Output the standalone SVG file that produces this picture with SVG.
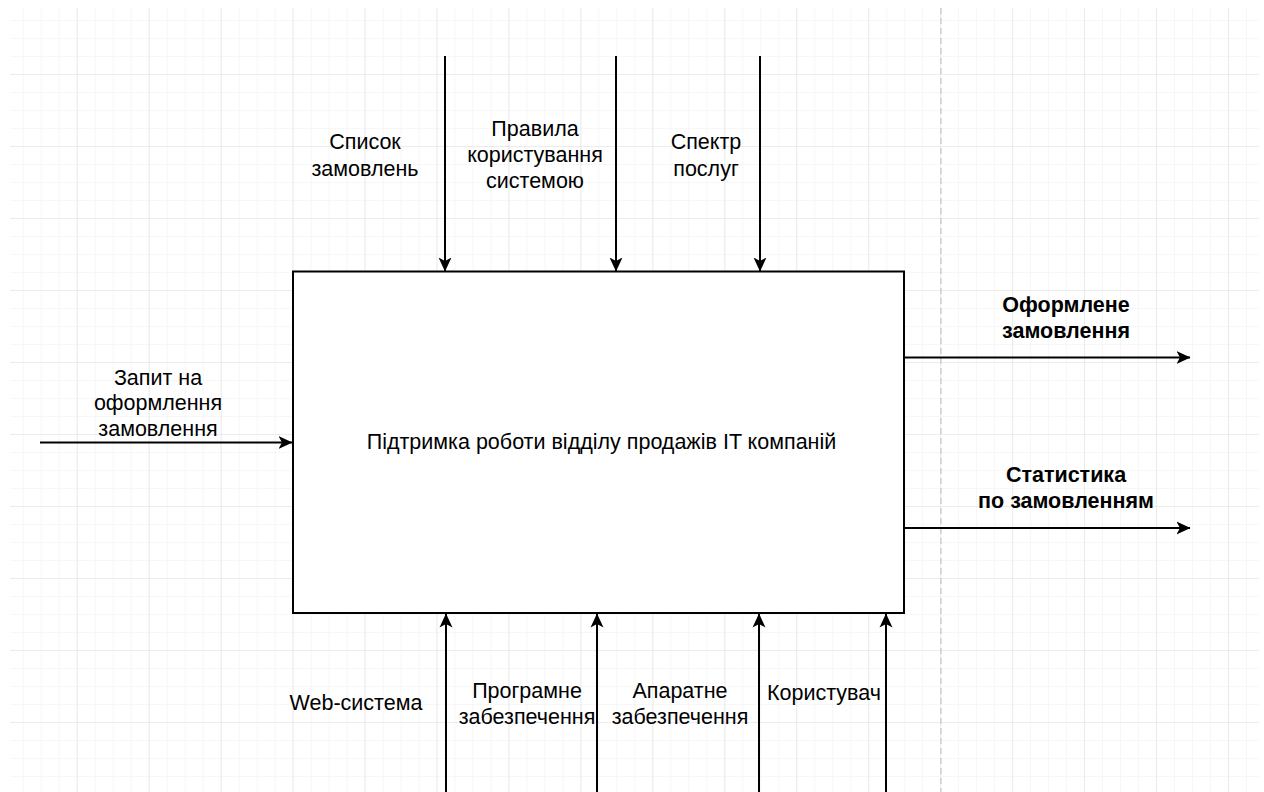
<svg xmlns="http://www.w3.org/2000/svg" width="1264" height="792" viewBox="0 0 1264 792">
  <style>
    text { font-family: "Liberation Sans", Arial, sans-serif; font-size: 21.5px; fill: #000; text-anchor: middle; }
    .b { font-weight: bold; }
    .conn { stroke: #000; stroke-width: 2; fill: none; }
    .box { fill: #fff; stroke: #000; stroke-width: 2; }
  </style>
  <defs>
    <pattern id="minor" patternUnits="userSpaceOnUse" x="4.8" y="2" width="17.9875" height="18">
      <path d="M0 0 V18 M0 0 H17.9875" stroke="#f0f0f0" stroke-width="1.2" fill="none"/>
    </pattern>
    <pattern id="major" patternUnits="userSpaceOnUse" x="4.8" y="2" width="71.95" height="72">
      <path d="M0 0 V72 M0 0 H71.95" stroke="#e2e2e2" stroke-width="1.2" fill="none"/>
    </pattern>
    <marker id="arrow" markerUnits="userSpaceOnUse" viewBox="0 0 14 14" refX="13.5" refY="7" markerWidth="14" markerHeight="14" orient="auto">
      <path d="M0 0.5 L14 7 L0 13.5 L3.5 7 Z" fill="#000"/>
    </marker>
  </defs>

  <rect x="0" y="0" width="1264" height="792" fill="#fff"/>
  <g id="grid">
    <rect x="10" y="8" width="1249" height="784" fill="url(#minor)"/>
    <rect x="10" y="8" width="1249" height="784" fill="url(#major)"/>
    <line x1="941" y1="8" x2="941" y2="792" stroke="#c4c4c4" stroke-width="1.2" stroke-dasharray="6 4"/>
  </g>

  <g id="connectors">
    <path class="conn" d="M445 56 V271" marker-end="url(#arrow)"/>
    <path class="conn" d="M616 56 V271" marker-end="url(#arrow)"/>
    <path class="conn" d="M760 56 V271" marker-end="url(#arrow)"/>
    <path class="conn" d="M40 442.5 H292" marker-end="url(#arrow)"/>
    <path class="conn" d="M905 357.5 H1190" marker-end="url(#arrow)"/>
    <path class="conn" d="M905 528 H1190" marker-end="url(#arrow)"/>
    <path class="conn" d="M446 792 V614" marker-end="url(#arrow)"/>
    <path class="conn" d="M597 792 V614" marker-end="url(#arrow)"/>
    <path class="conn" d="M759 792 V614" marker-end="url(#arrow)"/>
    <path class="conn" d="M886 792 V614" marker-end="url(#arrow)"/>
  </g>

  <g id="node-main">
    <rect class="box" x="293" y="271.5" width="611" height="341.5"/>
    <text x="601.5" y="449">Підтримка роботи відділу продажів IT компаній</text>
  </g>

  <g id="label-spysok">
    <text x="365" y="149">Список</text>
    <text x="365" y="175.5">замовлень</text>
  </g>
  <g id="label-pravyla">
    <text x="535" y="136">Правила</text>
    <text x="535" y="162">користування</text>
    <text x="535" y="188">системою</text>
  </g>
  <g id="label-spektr">
    <text x="706" y="149">Спектр</text>
    <text x="706" y="175.5">послуг</text>
  </g>
  <g id="label-zapyt">
    <text x="158" y="384.5">Запит на</text>
    <text x="158" y="410">оформлення</text>
    <text x="158" y="436">замовлення</text>
  </g>
  <g id="label-oformlene">
    <text class="b" x="1066" y="312">Оформлене</text>
    <text class="b" x="1066" y="337.5">замовлення</text>
  </g>
  <g id="label-statystyka">
    <text class="b" x="1066" y="482">Статистика</text>
    <text class="b" x="1066" y="508">по замовленням</text>
  </g>
  <g id="label-web">
    <text x="356" y="710">Web-система</text>
  </g>
  <g id="label-programne">
    <text x="527" y="697.5">Програмне</text>
    <text x="527" y="723.5">забезпечення</text>
  </g>
  <g id="label-aparatne">
    <text x="680" y="697.5">Апаратне</text>
    <text x="680" y="723.5">забезпечення</text>
  </g>
  <g id="label-korystuvach">
    <text x="824" y="700">Користувач</text>
  </g>
</svg>
